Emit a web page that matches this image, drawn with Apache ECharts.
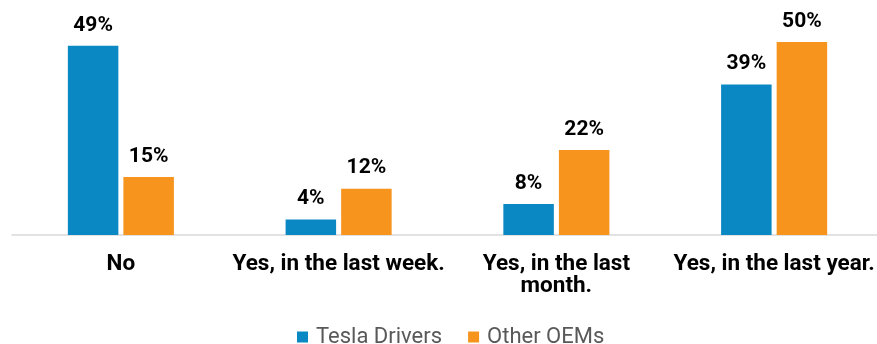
<!DOCTYPE html>
<html>
<head>
<meta charset="utf-8">
<script src="https://cdn.jsdelivr.net/npm/echarts@6/dist/echarts.min.js"></script>
<style>
  html, body { margin: 0; padding: 0; background: #ffffff; }
  #chart { width: 877px; height: 344px; }
</style>
</head>
<body>
<div id="chart"></div>
<script>
// Survey answers (categories) and the share of respondents per group, in percent
const categories = ['No', 'Yes, in the last week.', 'Yes, in the last\nmonth.', 'Yes, in the last year.'];
const teslaDrivers = [49, 4, 8, 39];
const otherOEMs = [15, 12, 22, 50];
const seriesNames = ['Tesla Drivers', 'Other OEMs'];

const BLUE = '#0a88c3';
const ORANGE = '#f7941d';

const valueLabel = {
  show: true,
  position: 'top',
  distance: 10,
  formatter: p => p.value + '%',
  fontFamily: 'Roboto',
  fontWeight: 'bold',
  fontSize: 21,
  color: '#000000'
};

const chart = echarts.init(document.getElementById('chart'), null, { renderer: 'canvas' });
chart.setOption({
  animation: false,
  textStyle: { fontFamily: 'Roboto' },
  // plot area runs slightly past the right edge of the canvas
  grid: { left: 12, width: 871, top: 42, height: 193, containLabel: false, outerBoundsMode: 'none' },
  legend: {
    data: seriesNames,
    top: 321,
    left: 292,
    itemWidth: 11,
    itemHeight: 11,
    itemGap: 26,
    icon: 'rect',
    textStyle: { fontFamily: 'Roboto', fontSize: 22, color: '#595959', padding: [0, 0, 0, 3] }
  },
  xAxis: {
    type: 'category',
    data: categories,
    axisLine: { show: true, lineStyle: { color: '#d9d9d9', width: 1.5 } },
    axisTick: { show: false },
    axisLabel: {
      interval: 0,
      margin: 18,
      fontFamily: 'Roboto',
      fontWeight: 'bold',
      fontSize: 22.5,
      lineHeight: 22,
      color: '#000000',
      align: 'center'
    }
  },
  yAxis: {
    type: 'value',
    min: 0,
    max: 50,
    show: false,
    splitLine: { show: false }
  },
  series: [
    {
      name: seriesNames[0],
      type: 'bar',
      data: teslaDrivers,
      barWidth: 50.5,
      barGap: '10%',
      itemStyle: { color: BLUE },
      label: valueLabel
    },
    {
      name: seriesNames[1],
      type: 'bar',
      data: otherOEMs,
      barWidth: 50.5,
      barGap: '10%',
      itemStyle: { color: ORANGE },
      label: valueLabel
    }
  ]
});
</script>
</body>
</html>
